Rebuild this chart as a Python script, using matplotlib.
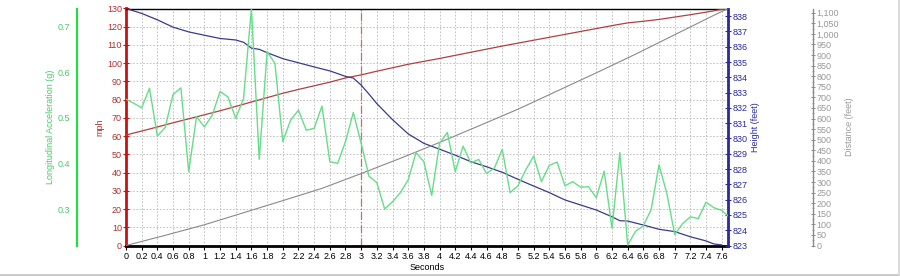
import matplotlib
matplotlib.use('Agg')
import matplotlib.pyplot as plt
from matplotlib.ticker import MultipleLocator, FuncFormatter
from matplotlib.lines import Line2D

# ---------------- data ----------------
t_speed = [0, 0.2, 0.4, 0.6, 0.8, 1.0, 1.2, 1.4, 1.6, 1.8, 2.0, 2.2, 2.4, 2.6, 2.8,
           3.0, 3.2, 3.4, 3.6, 3.8, 4.0, 4.2, 4.4, 4.6, 4.8, 5.0, 5.2, 5.4, 5.6,
           5.8, 6.0, 6.2, 6.4, 6.6, 6.8, 7.0, 7.2, 7.4, 7.6, 7.68]
speed_mph = [60.6, 62.8, 65.0, 67.3, 69.5, 71.7, 73.9, 76.3, 78.7, 81.1, 83.5, 85.6,
             87.6, 89.6, 91.9, 93.6, 95.6, 97.5, 99.4, 101.0, 102.6, 104.3, 106.0,
             107.7, 109.4, 111.0, 112.6, 114.2, 115.8, 117.4, 119.0, 120.6, 122.1,
             123.0, 124.0, 125.3, 126.6, 128.0, 129.5, 130.0]

t_height = [0, 0.2, 0.4, 0.6, 0.8, 1.0, 1.2, 1.4, 1.5, 1.6, 1.7, 1.8, 2.0, 2.2, 2.4,
            2.6, 2.8, 2.9, 3.0, 3.1, 3.2, 3.4, 3.6, 3.8, 4.0, 4.2, 4.4, 4.6, 4.8,
            5.0, 5.2, 5.4, 5.6, 5.8, 6.0, 6.2, 6.3, 6.4, 6.6, 6.8, 7.0, 7.2, 7.4,
            7.5, 7.6]
height_ft = [838.50, 838.18, 837.76, 837.28, 836.97, 836.75, 836.54, 836.44, 836.29,
             835.91, 835.83, 835.61, 835.22, 834.95, 834.68, 834.42, 834.06, 833.95,
             833.49, 832.90, 832.28, 831.23, 830.30, 829.68, 829.30, 828.91, 828.48,
             828.15, 827.79, 827.33, 826.89, 826.46, 825.98, 825.65, 825.32, 824.88,
             824.62, 824.60, 824.34, 824.06, 823.91, 823.57, 823.30, 823.10, 823.04]

t_dist = [0, 0.5, 1.0, 1.5, 2.0, 2.5, 3.0, 3.5, 4.0, 4.5, 5.0, 5.5, 6.0, 6.5, 7.0,
          7.5, 7.68]
distance_ft = [0, 48, 98, 155, 212, 270, 340, 412, 487, 565, 644, 730, 816, 904,
               996, 1088, 1120]

t_accel = [0, 0.1, 0.2, 0.3, 0.4, 0.5, 0.6, 0.7, 0.8, 0.9, 1.0, 1.1, 1.2, 1.3, 1.4,
           1.5, 1.6, 1.7, 1.8, 1.9, 2.0, 2.1, 2.2, 2.3, 2.4, 2.5, 2.6, 2.7, 2.8,
           2.9, 3.0, 3.1, 3.2, 3.3, 3.4, 3.5, 3.6, 3.7, 3.8, 3.9, 4.0, 4.1, 4.2,
           4.3, 4.4, 4.5, 4.6, 4.7, 4.8, 4.9, 5.0, 5.1, 5.2, 5.3, 5.4, 5.5, 5.6,
           5.7, 5.8, 5.9, 6.0, 6.1, 6.2, 6.3, 6.4, 6.5, 6.6, 6.7, 6.8, 6.9, 7.0,
           7.1, 7.2, 7.3, 7.4, 7.5, 7.6, 7.68]
accel_g = [0.541, 0.532, 0.522, 0.565, 0.460, 0.479, 0.551, 0.566, 0.382, 0.503,
           0.480, 0.506, 0.558, 0.546, 0.499, 0.543, 0.740, 0.409, 0.645, 0.620,
           0.448, 0.495, 0.517, 0.473, 0.477, 0.526, 0.404, 0.400, 0.448, 0.512,
           0.444, 0.372, 0.358, 0.300, 0.316, 0.336, 0.364, 0.424, 0.404, 0.330,
           0.444, 0.468, 0.382, 0.438, 0.401, 0.409, 0.378, 0.390, 0.431, 0.336,
           0.351, 0.386, 0.416, 0.360, 0.396, 0.403, 0.351, 0.360, 0.348, 0.349,
           0.325, 0.383, 0.258, 0.424, 0.221, 0.251, 0.263, 0.299, 0.397, 0.334,
           0.244, 0.268, 0.283, 0.279, 0.315, 0.303, 0.297, 0.285]

# ---------------- style ----------------
RED_LINE = '#b04040'
RED_AX = '#cc1010'
RED_TXT = '#b03030'
BLUE_LINE = '#3a3a90'
BLUE_AX = '#2a2aa0'
GREEN_LINE = '#66dd88'
GREEN_AX = '#22dd44'
GREEN_TXT = '#44cc66'
GRAY_LINE = '#8a8a8a'
GRAY_TXT = '#999999'
FS = 6.5

plt.rcParams['font.family'] = ['Liberation Sans', 'DejaVu Sans']

W, H = 900, 276
fig = plt.figure(figsize=(W / 100, H / 100), dpi=100)
L, R, B, T = 126, 728, 30.5, 8.5
ax = fig.add_axes([L / W, B / H, (R - L) / W, (H - B - T) / H])

# main (speed) axis
ax.set_xlim(0, 7.68)
ax.set_ylim(0, 130)
ax.xaxis.set_major_locator(MultipleLocator(0.2))
ax.xaxis.set_major_formatter(FuncFormatter(lambda v, p: f'{round(v, 1):g}'))
ax.yaxis.set_major_locator(MultipleLocator(10))
ax.grid(True, color='#b8b8b8', ls=(0, (2, 2)), lw=0.6)
ax.set_axisbelow(True)
ax.tick_params(axis='x', labelsize=FS, length=3, width=0.8, pad=2, colors='black')
ax.tick_params(axis='y', labelsize=FS, length=4, width=0.8, pad=1, colors=RED_AX,
               labelcolor=RED_TXT, direction='inout')
ax.spines['left'].set_color(RED_AX)
ax.spines['left'].set_linewidth(2)
ax.spines['bottom'].set_linewidth(2)
ax.spines['top'].set_linewidth(1)
ax.spines['right'].set_visible(False)
ax.set_ylabel('mph', color=RED_TXT, fontsize=FS, labelpad=2)
ax.set_xlabel('Seconds', fontsize=FS, labelpad=1)
ax.plot(t_speed, speed_mph, color=RED_LINE, lw=0.9, zorder=3)
ax.axvline(3.0, color='#c07070', ls='-.', lw=0.9, zorder=2)

def clean(a, keep):
    for s in ['left', 'right', 'top', 'bottom']:
        a.spines[s].set_visible(s == keep)

# height axis
ax_h = ax.twinx()
clean(ax_h, 'right')
ax_h.set_ylim(823, 838.5)
ax_h.yaxis.set_major_locator(MultipleLocator(1))
ax_h.yaxis.set_minor_locator(MultipleLocator(0.25))
ax_h.spines['right'].set_color(BLUE_AX)
ax_h.spines['right'].set_linewidth(2)
ax_h.tick_params(axis='y', which='major', labelsize=FS, length=4, width=0.8,
                 colors=BLUE_AX, direction='inout', pad=1)
ax_h.tick_params(axis='y', which='minor', length=2, width=0.6, colors=BLUE_AX,
                 direction='inout')
ax_h.set_ylabel('Height (feet)', color=BLUE_AX, fontsize=FS, labelpad=3)
ax_h.plot(t_height, height_ft, color=BLUE_LINE, lw=0.9)

# distance axis
ax_d = ax.twinx()
clean(ax_d, 'right')
ax_d.spines['right'].set_position(('axes', (813 - L) / (R - L)))
ax_d.spines['right'].set_color(GRAY_LINE)
ax_d.spines['right'].set_linewidth(1)
ax_d.set_ylim(0, 1120)
ax_d.yaxis.set_major_locator(MultipleLocator(50))
ax_d.yaxis.set_minor_locator(MultipleLocator(25))
ax_d.yaxis.set_major_formatter(FuncFormatter(lambda v, p: f'{int(round(v)):,}'))
ax_d.tick_params(axis='y', which='major', labelsize=FS, length=3, width=0.7,
                 colors=GRAY_LINE, labelcolor=GRAY_TXT, direction='inout', pad=1)
ax_d.tick_params(axis='y', which='minor', length=2, width=0.5, colors=GRAY_LINE,
                 direction='inout')
ax_d.set_ylabel('Distance (feet)', color=GRAY_TXT, fontsize=FS, labelpad=4)
ax_d.plot(t_dist, distance_ft, color=GRAY_LINE, lw=0.8)

# acceleration axis
ax_a = ax.twinx()
clean(ax_a, 'left')
ax_a.yaxis.set_ticks_position('left')
ax_a.yaxis.set_label_position('left')
ax_a.spines['left'].set_position(('axes', (77 - L) / (R - L)))
ax_a.spines['left'].set_color(GREEN_AX)
ax_a.spines['left'].set_linewidth(1.6)
ax_a.set_ylim(0.22, 0.74)
ax_a.yaxis.set_major_locator(MultipleLocator(0.1))
ax_a.yaxis.set_major_formatter(FuncFormatter(lambda v, p: f'{v:.1f}'))
ax_a.tick_params(axis='y', labelsize=FS, length=0, colors=GREEN_TXT, pad=5)
ax_a.set_ylabel('Longitudinal Acceleration (g)', color=GREEN_TXT, fontsize=FS,
                labelpad=2)
ax_a.plot(t_accel, accel_g, color=GREEN_LINE, lw=1.0)

# window frame edges
fig.add_artist(Line2D([0, 1], [1.5 / H, 1.5 / H], color='#c8c8c8', lw=2,
                      transform=fig.transFigure))
fig.add_artist(Line2D([1 - 1.5 / W, 1 - 1.5 / W], [0, 1], color='#d8d8d8', lw=2,
                      transform=fig.transFigure))

fig.savefig('out.png', dpi=100)
